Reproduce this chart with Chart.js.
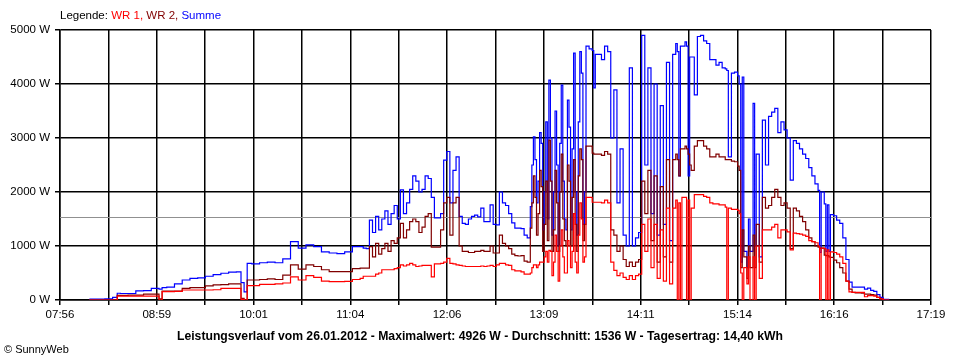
<!DOCTYPE html>
<html>
  <head>
    <meta charset="UTF-8">
    <title>Leistungsverlauf</title>
    <script src="https://cdn.jsdelivr.net/npm/chart.js@4.4.1/dist/chart.umd.min.js"></script>
    <style type="text/css">
      html, body { margin: 0; padding: 0; background: #fff; }
    </style>
  </head>
  <body>
    <canvas id="myChart" width="960" height="360"></canvas>
    <script>
    // Zeitpunkte und Leistungen (W)
    var times = [
      "08:15","08:20","08:25","08:30","08:33","08:35","08:40","08:45","08:50","08:55",
      "08:58","09:00","09:02","09:05","09:10","09:15","09:20","09:25","09:30","09:35",
      "09:40","09:45","09:50","09:53","09:55","09:57","10:00","10:05","10:10","10:15",
      "10:20","10:25","10:30","10:35","10:40","10:45","10:50","10:55","11:00","11:05",
      "11:10","11:12","11:14","11:16","11:18","11:20","11:22","11:24","11:26","11:28",
      "11:30","11:32","11:34","11:36","11:38","11:40","11:42","11:44","11:46","11:48",
      "11:50","11:52","11:54","11:56","11:58","12:00","12:02","12:04","12:06","12:08",
      "12:10","12:12","12:14","12:16","12:18","12:20","12:22","12:24","12:26","12:28",
      "12:30","12:32","12:34","12:36","12:38","12:40","12:42","12:44","12:46","12:48",
      "12:50","12:52","12:54","12:56","12:58",
      "13:00","13:01","13:02","13:03","13:04","13:05","13:06","13:07","13:08","13:09",
      "13:10","13:11","13:12","13:13","13:14","13:15","13:16","13:17","13:18","13:19",
      "13:20","13:21","13:22","13:23","13:24","13:25","13:26","13:27","13:28","13:29",
      "13:30","13:31","13:32","13:33","13:34","13:35","13:36",
      "13:38","13:40","13:41","13:42","13:44","13:46",
      "13:48","13:50","13:52","13:54","13:56","13:58","14:00","14:02","14:04","14:06",
      "14:08","14:10","14:12","14:14","14:16","14:18","14:20","14:22","14:24","14:26",
      "14:28","14:30","14:32","14:34","14:35","14:36","14:37","14:38","14:40","14:41",
      "14:42","14:43","14:44","14:46","14:48","14:50","14:52","14:54","14:56","14:58",
      "15:00","15:02","15:04","15:06","15:07","15:08","15:10","15:12","15:14","15:15",
      "15:16","15:17","15:18","15:20","15:21","15:22","15:24","15:25","15:26","15:28",
      "15:30","15:32","15:34","15:36","15:38","15:40","15:42","15:44","15:46","15:48",
      "15:50","15:52","15:54","15:56","15:58","16:00","16:02","16:04","16:06","16:07",
      "16:08","16:10","16:11","16:12","16:13","16:14","16:16","16:18","16:20","16:22",
      "16:24","16:26","16:28","16:30","16:32","16:34","16:36","16:38","16:40","16:42",
      "16:44","16:46","16:48","16:52"
    ];
    var summe = [
      15,15,20,50,125,120,120,170,175,215,
      215,200,230,240,300,370,400,410,440,470,
      495,515,520,320,150,680,670,690,700,690,
      760,1080,960,1020,990,890,870,860,890,990,
      990,960,950,1480,1250,1550,1300,1500,1650,1400,
      1600,1750,1500,2040,1600,1800,2050,2300,2200,2000,
      2050,2300,2250,1900,1520,1520,1600,2590,2750,1800,
      2400,2650,1550,1420,1400,1500,1550,1570,1540,1700,
      1450,1450,1760,1400,1390,2000,1800,1750,1600,1430,
      1330,1330,1320,1200,1150,
      1730,2500,3020,2600,1800,2200,3100,2900,1300,2000,
      3300,1500,4070,3000,1200,2000,3500,2500,1000,2900,
      3980,2200,1500,1300,3700,3200,1300,2800,4570,2000,
      1200,3300,4600,4200,1400,2000,4700,
      4650,4620,3930,4550,4550,4450,
      4700,4600,3000,3890,1800,2800,1200,1000,4300,1000,
      1150,1250,4900,2500,4300,1600,4000,1200,3600,1400,
      4400,1100,4550,4750,4600,2300,4700,4700,4780,4700,
      2300,4500,4500,3800,4880,4900,4800,4750,4450,4450,
      4350,4400,4300,4280,4250,2650,4200,4220,4150,4000,
      700,4130,900,600,1500,900,3640,1000,2700,800,
      3330,2500,3400,3480,3550,3100,3300,3150,3000,2220,
      2950,2900,2800,2700,2620,2450,2300,2150,2030,880,
      2000,1780,900,1760,900,1580,1560,1480,1420,1150,
      750,330,240,240,240,240,200,220,180,160,
      100,50,10,10
    ];
    var wr2 = [
      0,0,0,0,85,85,90,90,110,110,
      110,20,165,165,165,215,230,230,260,280,
      285,300,300,30,0,370,370,380,390,380,
      460,650,570,650,620,560,525,525,525,580,
      590,590,590,990,800,1050,850,950,1050,900,
      1100,1050,1150,1420,1150,1300,1450,1500,1450,1250,
      1350,1550,1600,980,980,980,1300,1800,1900,1200,
      1800,1900,1000,900,900,880,880,900,900,920,
      900,900,1000,870,870,1200,1050,1000,950,850,
      820,815,820,720,700,
      1330,1800,2300,1900,1200,1600,2400,2100,900,1400,
      2200,1100,2960,2200,900,1300,2400,1800,900,2000,
      2700,1500,1100,1000,2500,2200,1000,1900,2600,1400,
      900,2300,2800,2600,1100,1400,2850,
      2850,2720,2700,2700,2700,2680,
      2750,2700,1300,1200,900,1000,750,620,700,620,
      700,750,2200,1600,2400,1100,2300,700,2100,800,
      2600,700,2600,2700,2600,2300,2800,2800,2850,2800,
      2700,2500,2400,2850,2950,2950,2850,2800,2650,2650,
      2700,2650,2650,2600,2600,2600,2570,2560,2480,2400,
      600,1300,800,400,1000,600,1200,600,1400,700,
      1900,1700,1750,1900,2050,1900,1750,1800,1700,950,
      1700,1650,1550,1450,1300,1150,1080,1000,980,960,
      960,830,820,820,800,790,740,690,600,500,
      350,200,140,130,130,125,110,110,100,90,
      50,20,0,0
    ];
    var wr1 = [
      0,0,0,0,70,70,70,70,70,70,
      70,0,155,155,160,185,185,185,185,190,
      215,215,215,10,0,265,265,290,290,300,
      315,430,370,450,420,350,340,340,345,380,
      400,440,440,440,440,480,500,560,560,560,
      560,580,600,650,630,650,680,650,620,630,
      640,640,640,430,670,670,680,700,770,680,
      670,650,640,630,620,620,620,620,620,630,
      620,630,640,620,650,680,680,650,640,560,
      540,540,520,480,480,
      500,600,650,650,600,650,700,700,700,800,
      900,700,920,900,450,700,1200,900,350,1000,
      1300,800,500,500,1100,1000,600,900,1600,700,
      500,1200,1800,1500,700,800,1900,
      1900,1810,1810,1810,1810,1800,
      1850,1800,700,550,450,500,420,380,450,380,
      450,480,1400,900,1500,600,1400,400,1300,350,
      1700,300,1700,1850,0,1800,0,1900,1900,0,
      1850,0,1700,1950,1950,1950,1920,1900,1800,1780,
      1780,1760,1760,1720,0,1700,1680,1680,1660,1600,
      500,0,600,300,800,0,800,0,1000,400,
      1300,1300,1300,1350,1400,1150,1300,1300,1260,930,
      1240,1230,1220,1200,1180,1100,1080,1060,1000,0,
      960,950,0,930,0,890,880,850,800,680,
      350,150,140,140,140,140,60,80,80,70,
      50,20,0,0
    ];

    var xStart = "07:56";
    var xEnd = "17:19";
    var xIntervals = 18;
    var yMax = 5000;
    var yStep = 1000;
    var average = 1536;

    var legendParts = [
      ["Legende: ", "#000000"],
      ["WR 1, ", "#ff0000"],
      ["WR 2, ", "#800000"],
      ["Summe", "#0000ff"]
    ];
    var footerText = "Leistungsverlauf vom 26.01.2012 - Maximalwert: 4926 W - Durchschnitt: 1536 W - Tagesertrag: 14,40 kWh";
    var copyText = "\u00a9 SunnyWeb";

    function toMin(s) {
      var p = s.split(":");
      return parseInt(p[0], 10) * 60 + parseInt(p[1], 10);
    }
    function toClock(m) {
      m = Math.round(m);
      var h = Math.floor(m / 60), mm = m % 60;
      return (h < 10 ? "0" : "") + h + ":" + (mm < 10 ? "0" : "") + mm;
    }

    var xMin = toMin(xStart), xMax = toMin(xEnd);
    var xTickValues = [];
    for (var i = 0; i <= xIntervals; i++) {
      xTickValues.push(xMin + i * (xMax - xMin) / xIntervals);
    }

    function series(values) {
      var out = [];
      for (var i = 0; i < times.length; i++) {
        out.push({x: toMin(times[i]), y: values[i]});
      }
      return out;
    }

    var FONT = '"Liberation Sans", Arial, sans-serif';

    var extras = {
      id: 'extras',
      beforeDatasetsDraw: function(chart) {
        var ctx = chart.ctx, a = chart.chartArea;
        var y = Math.round(chart.scales.y.getPixelForValue(average)) + 0.5;
        ctx.save();
        ctx.strokeStyle = "#909090";
        ctx.lineWidth = 1;
        ctx.beginPath();
        ctx.moveTo(a.left, y);
        ctx.lineTo(a.right, y);
        ctx.stroke();
        ctx.restore();
      },
      afterDraw: function(chart) {
        var ctx = chart.ctx;
        ctx.save();
        ctx.textBaseline = "middle";
        ctx.font = "11.5px " + FONT;
        var x = 60;
        legendParts.forEach(function(p) {
          ctx.fillStyle = p[1];
          ctx.fillText(p[0], x, 16);
          x += ctx.measureText(p[0]).width;
        });
        ctx.font = "bold 12.2px " + FONT;
        ctx.fillStyle = "#000";
        ctx.textAlign = "center";
        ctx.fillText(footerText, 480, 337);
        ctx.font = "11px " + FONT;
        ctx.textAlign = "left";
        ctx.fillText(copyText, 4, 350);
        ctx.restore();
      }
    };

    var ctx = document.getElementById('myChart').getContext('2d');
    var chart = new Chart(ctx, {
      type: 'line',
      data: {
        datasets: [
          {label: "WR 1", data: series(wr1), borderColor: "#ff0000", borderWidth: 1.2, pointRadius: 0, stepped: true, fill: false},
          {label: "WR 2", data: series(wr2), borderColor: "#800000", borderWidth: 1.2, pointRadius: 0, stepped: true, fill: false},
          {label: "Summe", data: series(summe), borderColor: "#0000ff", borderWidth: 1.2, pointRadius: 0, stepped: true, fill: false}
        ]
      },
      options: {
        responsive: false,
        animation: false,
        devicePixelRatio: 1,
        layout: {padding: {top: 30, right: 29, left: 0, bottom: 0}},
        plugins: {legend: {display: false}, tooltip: {enabled: false}},
        scales: {
          x: {
            type: 'linear',
            min: xMin,
            max: xMax,
            afterBuildTicks: function(s) {
              s.ticks = xTickValues.map(function(v) { return {value: v}; });
            },
            afterFit: function(s) { s.height = 60; },
            ticks: {
              autoSkip: false,
              maxRotation: 0,
              padding: 3,
              color: "#000",
              font: {family: FONT, size: 11.5},
              callback: function(v, i) { return i % 2 === 0 ? toClock(v) : ""; }
            },
            grid: {color: "#000", lineWidth: 1.5, tickLength: 5, tickColor: "#000"},
            border: {color: "#000", width: 1.5}
          },
          y: {
            min: 0,
            max: yMax,
            afterFit: function(s) { s.width = 60; },
            ticks: {
              stepSize: yStep,
              padding: 5,
              color: "#000",
              font: {family: FONT, size: 11.5},
              callback: function(v) { return v + " W"; }
            },
            grid: {color: "#000", lineWidth: 1.5, tickLength: 5, tickColor: "#000"},
            border: {color: "#000", width: 1.5}
          }
        }
      },
      plugins: [extras]
    });
    </script>
  </body>
</html>
